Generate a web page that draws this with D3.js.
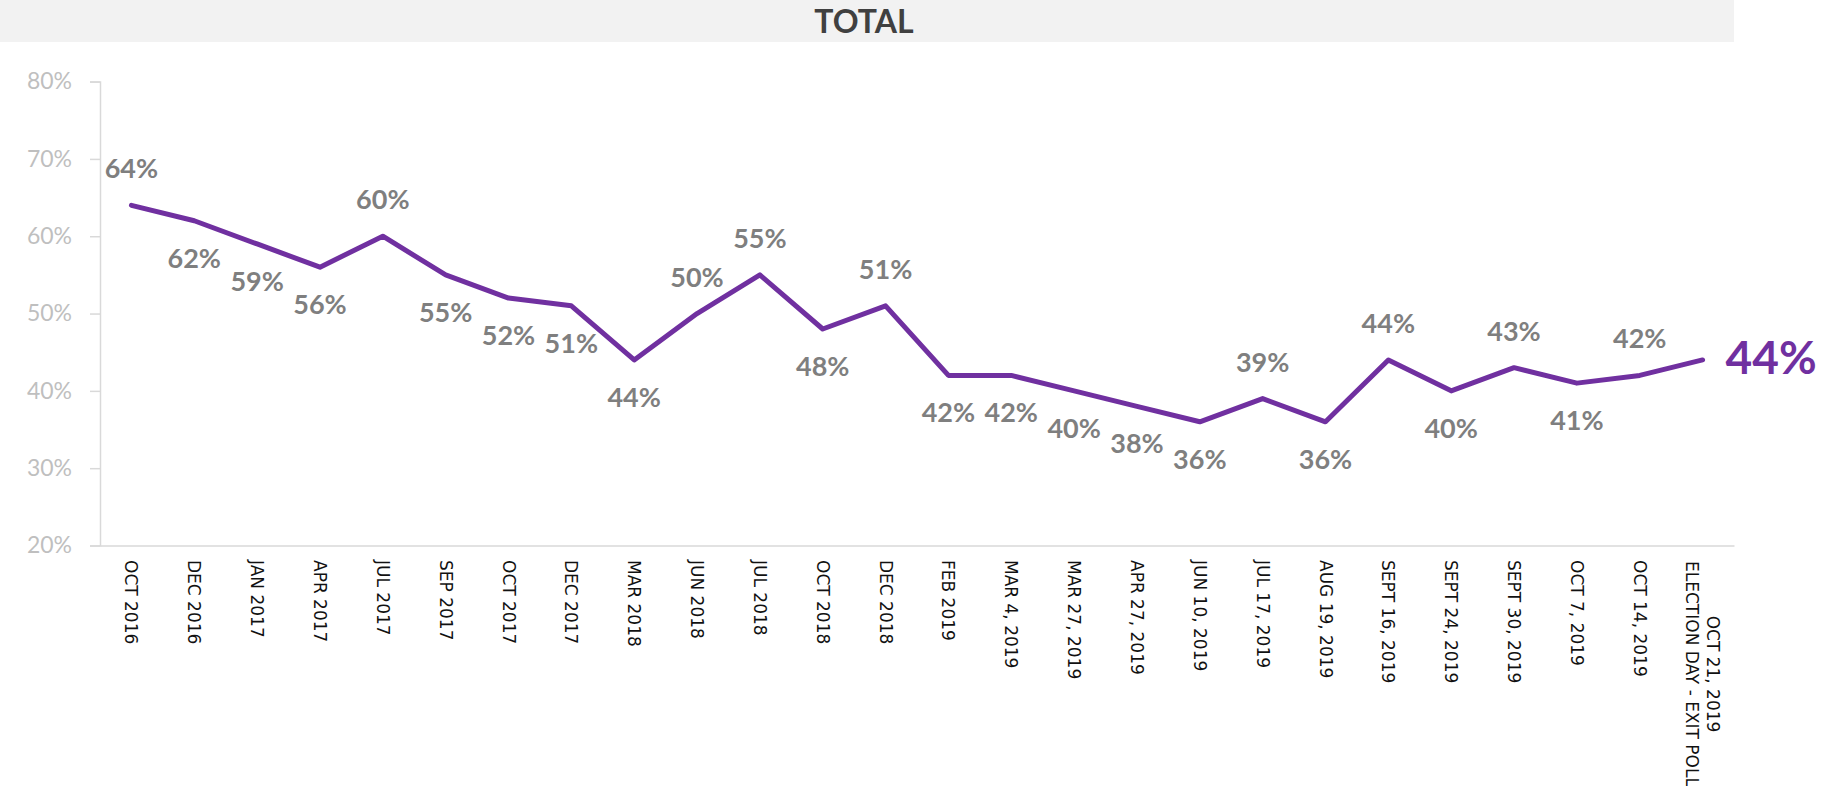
<!DOCTYPE html>
<html>
<head>
<meta charset="utf-8">
<script src="https://cdn.jsdelivr.net/npm/d3@7"></script>
<style>
  body { margin: 0; background: #fff; }
  .y.axis text { font-family: Lato, "Open Sans", sans-serif; font-size: 23px; fill: #bfbfbf; }
  .axis path, .axis line { stroke: #d9d9d9; stroke-width: 1.5; }
  .x.axis text { font-family: "DejaVu Sans", Verdana, sans-serif; font-size: 17px; fill: #111; }
  .lbl { font-family: Lato, "Open Sans", sans-serif; font-weight: bold; font-size: 27px; fill: #7f7f7f; }
</style>
</head>
<body>
<script>
const TITLE = "TOTAL";

const categories = [
  "OCT 2016", "DEC 2016", "JAN 2017", "APR 2017", "JUL 2017", "SEP 2017",
  "OCT 2017", "DEC 2017", "MAR 2018", "JUN 2018", "JUL 2018", "OCT 2018",
  "DEC 2018", "FEB 2019", "MAR 4, 2019", "MAR 27, 2019", "APR 27, 2019",
  "JUN 10, 2019", "JUL 17, 2019", "AUG 19, 2019", "SEPT 16, 2019",
  "SEPT 24, 2019", "SEPT 30, 2019", "OCT 7, 2019", "OCT 14, 2019",
  "OCT 21, 2019|ELECTION DAY - EXIT POLL"
];

const values = [64, 62, 59, 56, 60, 55, 52, 51, 44, 50, 55, 48, 51, 42, 42, 40, 38, 36, 39, 36, 44, 40, 43, 41, 42, 44];

const yTicks = [20, 30, 40, 50, 60, 70, 80];

const W = 1827, H = 786;
let margin = {top: 81.6, right: 93, bottom: 240.5, left: 100}
  , width = W - margin.left - margin.right
  , height = H - margin.top - margin.bottom;

const svg = d3.select("body").append("svg")
    .attr("width", W)
    .attr("height", H);

// title bar
svg.append("rect")
    .attr("x", 0).attr("y", 0)
    .attr("width", 1734).attr("height", 42)
    .attr("fill", "#f2f2f2");
svg.append("text")
    .attr("x", 864).attr("y", 33)
    .attr("text-anchor", "middle")
    .style("font-family", "Lato, 'Open Sans', sans-serif")
    .style("font-weight", "bold")
    .style("font-size", "32px")
    .attr("fill", "#404040")
    .text(TITLE);

const g = svg.append("g")
    .attr("transform", "translate(" + margin.left + "," + margin.top + ")");

let xScale = d3.scaleBand().domain(categories).range([0, width]);
let yScale = d3.scaleLinear().domain([20, 80]).range([height, 0]);
const cx = (c) => xScale(c) + xScale.bandwidth() / 2;

// y axis
g.append("g")
    .attr("class", "y axis")
    .call(d3.axisLeft(yScale).tickValues(yTicks).tickSize(10).tickPadding(18)
      .tickFormat(d => d + "%"));

// x axis
const xAxis = g.append("g")
    .attr("class", "x axis")
    .attr("transform", "translate(0," + height + ")")
    .call(d3.axisBottom(xScale).tickSize(0).tickSizeOuter(0).tickFormat(""));

xAxis.selectAll(".tick").each(function(d) {
  const parts = d.split("|");
  const t = d3.select(this).append("text")
      .attr("transform", "translate(0,14.5) rotate(90)");
  if (parts.length === 1) {
    t.attr("text-anchor", "start").attr("x", 0).attr("dy", "0.35em").text(d);
  } else {
    t.attr("text-anchor", "middle");
    t.append("tspan").attr("x", 114).attr("y", -10).attr("dy", "0.35em").text(parts[0]);
    t.append("tspan").attr("x", 114).attr("y", 11).attr("dy", "0.35em").text(parts[1]);
  }
});

// line
let line = d3.line()
    .x((d, i) => cx(categories[i]))
    .y(d => yScale(d));

g.append("path")
    .datum(values)
    .attr("fill", "none")
    .attr("stroke", "#7030a0")
    .attr("stroke-width", 5)
    .attr("stroke-linejoin", "round")
    .attr("stroke-linecap", "round")
    .attr("d", line);

// data labels: above when rising, below otherwise; last one big and to the right
const last = values.length - 1;
g.selectAll(".lbl")
    .data(values.slice(0, last))
  .enter().append("text")
    .attr("class", "lbl")
    .attr("text-anchor", "middle")
    .attr("x", (d, i) => cx(categories[i]))
    .attr("y", (d, i) => (i === 0 || d > values[i - 1]) ? yScale(d) - 27 : yScale(d) + 47)
    .text(d => d + "%");

g.append("text")
    .attr("x", cx(categories[last]) + 23)
    .attr("y", yScale(values[last]) + 14)
    .style("font-family", "Lato, 'Open Sans', sans-serif")
    .style("font-weight", "bold")
    .style("font-size", "46px")
    .attr("fill", "#7030a0")
    .text(values[last] + "%");
</script>
</body>
</html>
